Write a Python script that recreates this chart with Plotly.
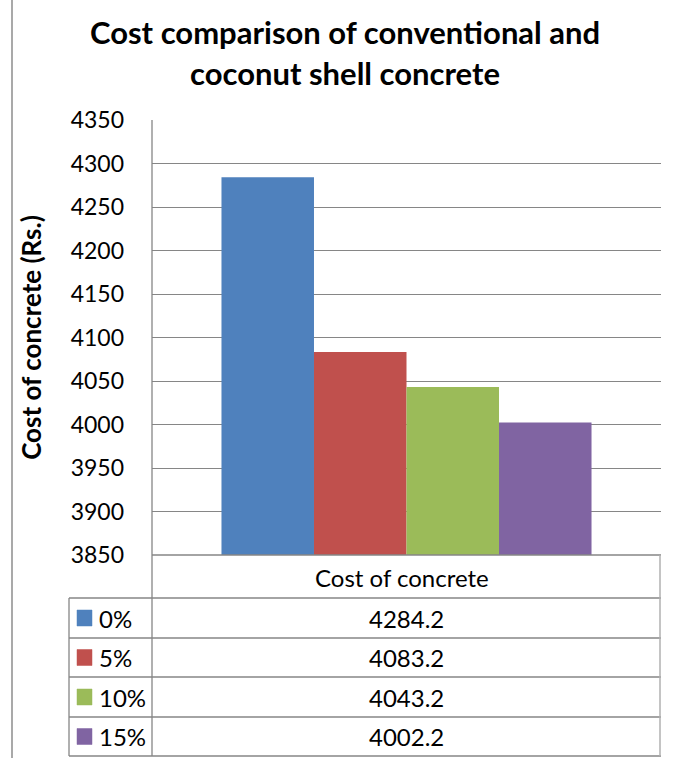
import plotly.graph_objects as go

# Data
category = "Cost of concrete"
replacement = ["0%", "5%", "10%", "15%"]
cost = [4284.2, 4083.2, 4043.2, 4002.2]
colors = ["#4F81BD", "#C0504D", "#9BBB59", "#8064A2"]
y_ticks = list(range(3850, 4351, 50))

W, H = 675, 758
L, R, T, B = 152, 14, 120, 203
pw, ph = W - L - R, H - T - B

def px(x):
    return (x - L) / pw

def py(y):
    return (H - B - y) / ph

FONT = "Lato"
GRID = "#868686"
TXT = 24

fig = go.Figure()
for name, val, col in zip(replacement, cost, colors):
    fig.add_trace(go.Bar(x=[category], y=[val], name=name,
                         marker=dict(color=col, line=dict(color=col, width=0))))

shapes = []
annotations = []

# chart area left border
shapes.append(dict(type="line", xref="paper", yref="paper",
                   x0=px(12), x1=px(12), y0=py(0), y1=py(H),
                   line=dict(color="#8c8c8c", width=1.5)))

# data table grid
row_edges = [598, 638, 677, 717, 756]
shapes.append(dict(type="line", xref="paper", yref="paper",
                   x0=0, x1=px(661), y0=py(555), y1=py(555),
                   line=dict(color=GRID, width=1.3)))
for yy in row_edges:
    shapes.append(dict(type="line", xref="paper", yref="paper",
                       x0=px(69), x1=px(661), y0=py(yy), y1=py(yy),
                       line=dict(color=GRID, width=1.3)))
shapes.append(dict(type="line", xref="paper", yref="paper",
                   x0=0, x1=0, y0=py(120), y1=py(756),
                   line=dict(color=GRID, width=1.3)))
shapes.append(dict(type="line", xref="paper", yref="paper",
                   x0=px(69), x1=px(69), y0=py(598), y1=py(756),
                   line=dict(color=GRID, width=1.3)))
shapes.append(dict(type="line", xref="paper", yref="paper",
                   x0=px(660), x1=px(660), y0=py(555), y1=py(756),
                   line=dict(color="#b0b0b0", width=1.5)))

# header cell
annotations.append(dict(xref="paper", yref="paper", x=px(402), y=py(577),
                        text=category, showarrow=False,
                        font=dict(family=FONT, size=TXT, color="#000000"),
                        xanchor="center", yanchor="middle"))

# table rows: legend key, series name, value
for i, (name, val, col) in enumerate(zip(replacement, cost, colors)):
    top, bot = row_edges[i], row_edges[i + 1]
    mid = (top + bot) / 2
    shapes.append(dict(type="rect", xref="paper", yref="paper",
                       x0=px(77), x1=px(92), y0=py(mid - 8), y1=py(mid + 8),
                       fillcolor=col, line=dict(color=col, width=0.5)))
    annotations.append(dict(xref="paper", yref="paper", x=px(97), y=py(mid),
                            text=name, showarrow=False,
                            font=dict(family=FONT, size=TXT, color="#000000"),
                            xanchor="left", yanchor="middle"))
    annotations.append(dict(xref="paper", yref="paper", x=px(406), y=py(mid),
                            text=f"{val:.1f}", showarrow=False,
                            font=dict(family=FONT, size=TXT, color="#000000"),
                            xanchor="center", yanchor="middle"))

# title, two lines
for text, yy in [("Cost comparison of conventional and", 32),
                 ("coconut shell concrete", 73)]:
    annotations.append(dict(xref="paper", yref="paper", x=px(345), y=py(yy),
                            text=f"<b>{text}</b>", showarrow=False,
                            font=dict(family=FONT, size=31, color="#000000"),
                            xanchor="center", yanchor="middle"))

fig.update_layout(
    width=W, height=H,
    margin=dict(l=L, r=R, t=T, b=B),
    paper_bgcolor="white", plot_bgcolor="white",
    barmode="group", bargap=0.273, bargroupgap=0,
    showlegend=False,
    shapes=shapes, annotations=annotations,
    xaxis=dict(showticklabels=False, showgrid=False, zeroline=False,
               showline=False, range=[-0.5, 0.5]),
    yaxis=dict(range=[3850, 4350], tickvals=y_ticks,
               ticktext=[str(v) for v in y_ticks],
               showgrid=True, gridcolor=GRID, gridwidth=1.3,
               zeroline=False, showline=False,
               ticks="", ticklabelstandoff=27,
               tickfont=dict(family=FONT, size=23, color="#000000"),
               title=dict(text="<b>Cost of concrete (Rs.)</b>", standoff=21,
                          font=dict(family=FONT, size=26, color="#000000"))),
)

fig.write_html("out.html")
